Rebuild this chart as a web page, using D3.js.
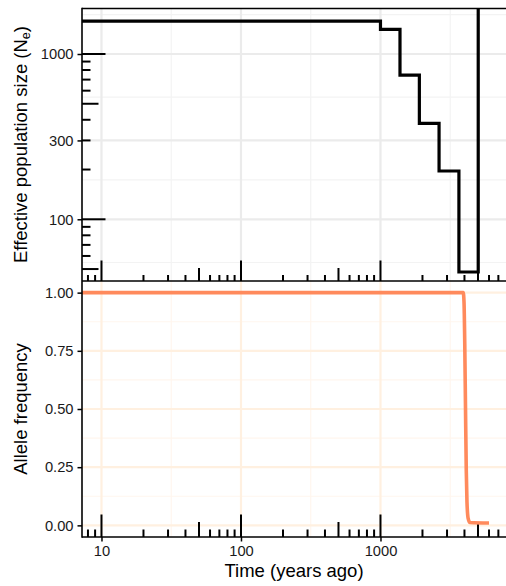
<!DOCTYPE html>
<html>
<head>
<meta charset="utf-8">
<script src="https://cdn.jsdelivr.net/npm/d3@7"></script>
<style>
  html, body { margin: 0; padding: 0; background: #fff; }
  svg { display: block; font-family: "Liberation Sans", Arial, Helvetica, sans-serif; }
</style>
</head>
<body>
<script>
// Demographic history (effective population size) and allele frequency over time
const timeTicks = [10, 100, 1000];
const neTicks = [100, 300, 1000];
const neTickLabels = ["100", "300", "1000"];
const freqTicks = [0, 0.25, 0.5, 0.75, 1];
const freqTickLabels = ["0.00", "0.25", "0.50", "0.75", "1.00"];

// Piecewise-constant Ne: each value holds from its start time until the next one
const neTimes = [7.25, 1000, 1380, 1900, 2630, 3650, 5020, 7940];
const neValues = [1580, 1410, 745, 380, 196, 48, 100000, 100000];

// Allele frequency trajectory
const freqTimes = [7.25, 100, 1000, 3920, 3970, 4020, 4070, 4120, 4170, 4250, 4380, 6000];
const freqValues = [1, 1, 1, 1, 0.96, 0.78, 0.5, 0.24, 0.1, 0.03, 0.012, 0.01];

const W = 506, H = 586;
const left = 82, right = 506;
const topP = { y0: 8, y1: 281 };
const botP = { y0: 281, y1: 537 };

const svg = d3.select("body").append("svg").attr("width", W).attr("height", H);

const x = d3.scaleLog().domain([7.25, 7940]).range([left, right]);
const yNe = d3.scaleLog().domain([42.33, 1898]).range([topP.y1, topP.y0]);
const yF = d3.scaleLinear().domain([-0.05, 1.05]).range([botP.y1, botP.y0]);

// minor breaks halfway between majors on the log scale
const logMid = (a, b) => Math.pow(10, (Math.log10(a) + Math.log10(b)) / 2);
const xMinor = [logMid(1, 10), logMid(10, 100), logMid(100, 1000), logMid(1000, 10000)];
const neMinor = [logMid(30, 100), logMid(100, 300), logMid(300, 1000), logMid(1000, 3000)];
const freqMinor = [0.125, 0.375, 0.625, 0.875];

function clip(id, y0, y1) {
  svg.append("clipPath").attr("id", id)
    .append("rect").attr("x", left).attr("y", y0).attr("width", right - left).attr("height", y1 - y0);
}
clip("clipTop", topP.y0, topP.y1);
clip("clipBot", botP.y0, botP.y1);

function grid(clipId, p, yScale, yMajor, yMinor, cMajor, cMinor) {
  const g = svg.append("g").attr("clip-path", `url(#${clipId})`);
  g.selectAll(".vmin").data(xMinor).join("line")
    .attr("x1", d => x(d)).attr("x2", d => x(d)).attr("y1", p.y0).attr("y2", p.y1)
    .attr("stroke", cMinor).attr("stroke-width", 1.2);
  g.selectAll(".hmin").data(yMinor).join("line")
    .attr("x1", left).attr("x2", right).attr("y1", d => yScale(d)).attr("y2", d => yScale(d))
    .attr("stroke", cMinor).attr("stroke-width", 1.2);
  g.selectAll(".vmaj").data(timeTicks).join("line")
    .attr("x1", d => x(d)).attr("x2", d => x(d)).attr("y1", p.y0).attr("y2", p.y1)
    .attr("stroke", cMajor).attr("stroke-width", 2.2);
  g.selectAll(".hmaj").data(yMajor).join("line")
    .attr("x1", left).attr("x2", right).attr("y1", d => yScale(d)).attr("y2", d => yScale(d))
    .attr("stroke", cMajor).attr("stroke-width", 2.2);
}
grid("clipTop", topP, yNe, neTicks, neMinor, "#ebebeb", "#f3f3f3");
grid("clipBot", botP, yF, freqTicks, freqMinor, "#fff0e0", "#fff6ee");

// log tick values k * 10^n inside a domain
function logTickValues(domain) {
  const out = [];
  for (let n = 0; n <= 4; n++) for (let k = 1; k <= 9; k++) {
    const v = k * Math.pow(10, n);
    if (v >= domain[0] && v <= domain[1]) out.push({ v, k });
  }
  return out;
}
const tickLen = (k, s, m, l) => (k === 1 ? l : k === 5 ? m : s);

// bottom log ticks for both panels
function bottomLogTicks(clipId, y1, s, m, l) {
  svg.append("g").attr("clip-path", `url(#${clipId})`)
    .selectAll("line").data(logTickValues(x.domain())).join("line")
    .attr("x1", d => x(d.v)).attr("x2", d => x(d.v))
    .attr("y1", y1).attr("y2", d => y1 - tickLen(d.k, s, m, l))
    .attr("stroke", "#000").attr("stroke-width", 2);
}
bottomLogTicks("clipTop", topP.y1, 6, 13, 20.5);
bottomLogTicks("clipBot", botP.y1, 7.5, 15, 22.5);

// left log ticks for Ne panel
svg.append("g").attr("clip-path", "url(#clipTop)")
  .selectAll("line").data(logTickValues(yNe.domain())).join("line")
  .attr("y1", d => yNe(d.v)).attr("y2", d => yNe(d.v))
  .attr("x1", left).attr("x2", d => left + tickLen(d.k, 8.5, 16.5, 23.5))
  .attr("stroke", "#000").attr("stroke-width", 2);

// Ne step line
const neLine = d3.line().x((d, i) => x(neTimes[i])).y(d => yNe(d)).curve(d3.curveStepAfter);
svg.append("path").datum(neValues)
  .attr("clip-path", "url(#clipTop)")
  .attr("d", neLine).attr("fill", "none")
  .attr("stroke", "#000").attr("stroke-width", 3.2).attr("stroke-linejoin", "miter");

// allele frequency line
const fLine = d3.line().x((d, i) => x(freqTimes[i])).y(d => yF(d)).curve(d3.curveMonotoneX);
svg.append("path").datum(freqValues)
  .attr("clip-path", "url(#clipBot)")
  .attr("d", fLine).attr("fill", "none")
  .attr("stroke", "#ff8a5c").attr("stroke-width", 3.6).attr("stroke-linejoin", "round");

// axes
const axisFont = "14.7px";
function styleAxis(g) {
  g.select(".domain").remove();
  g.selectAll(".tick line").attr("stroke", "#000").attr("stroke-width", 1.5);
  g.selectAll(".tick text").attr("fill", "#1a1a1a").style("font-size", axisFont)
    .style("font-family", "'Liberation Sans', Arial, sans-serif");
}
svg.append("g").attr("transform", `translate(${left},0)`)
  .call(d3.axisLeft(yNe).tickValues(neTicks).tickFormat((d, i) => neTickLabels[i]).tickSizeInner(4.5).tickSizeOuter(0).tickPadding(4))
  .call(styleAxis);
svg.append("g").attr("transform", `translate(${left},0)`)
  .call(d3.axisLeft(yF).tickValues(freqTicks).tickFormat((d, i) => freqTickLabels[i]).tickSizeInner(4.5).tickSizeOuter(0).tickPadding(4))
  .call(styleAxis);
svg.append("g").attr("transform", `translate(0,${botP.y1})`)
  .call(d3.axisBottom(x).tickValues(timeTicks).tickFormat(d3.format("d")).tickSizeInner(4.5).tickSizeOuter(0).tickPadding(4))
  .call(styleAxis);

// axis lines
const lines = [
  [left, topP.y0 + 0.5, right, topP.y0 + 0.5],
  [left, topP.y1, right, topP.y1],
  [left, botP.y1, right, botP.y1],
  [left, topP.y0 - 0.3, left, botP.y1 + 0.7]
];
svg.append("g").selectAll("line").data(lines).join("line")
  .attr("x1", d => d[0]).attr("y1", d => d[1]).attr("x2", d => d[2]).attr("y2", d => d[3])
  .attr("stroke", "#000").attr("stroke-width", 1.6);

// titles
const titleSize = "18.5px";
svg.append("text")
  .attr("x", (left + right) / 2).attr("y", 576.5)
  .attr("text-anchor", "middle").style("font-size", titleSize).attr("fill", "#000")
  .text("Time (years ago)");

const neTitle = svg.append("text")
  .attr("transform", `translate(26.5,${(topP.y0 + topP.y1) / 2}) rotate(-90)`)
  .attr("text-anchor", "middle").style("font-size", titleSize).attr("fill", "#000");
neTitle.append("tspan").text("Effective population size (N");
neTitle.append("tspan").attr("baseline-shift", "-22%").style("font-size", "12.5px").text("e");
neTitle.append("tspan").text(")");

svg.append("text")
  .attr("transform", `translate(26.5,${(botP.y0 + botP.y1) / 2}) rotate(-90)`)
  .attr("text-anchor", "middle").style("font-size", titleSize).attr("fill", "#000")
  .text("Allele frequency");
</script>
</body>
</html>
